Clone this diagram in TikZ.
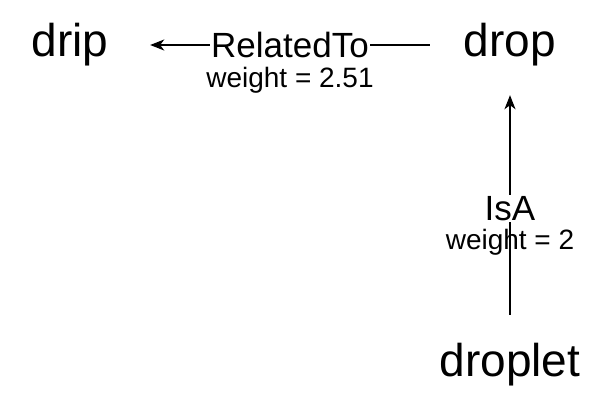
\documentclass[tikz,border=0pt]{standalone}
\usepackage{fontspec}
\setmainfont{Liberation Sans}
\usetikzlibrary{arrows.meta,positioning}

\begin{document}
\begin{tikzpicture}[x=1pt, y=-1pt, >={Stealth[length=14pt,width=11pt,inset=4pt]},
    concept/.style={font=\fontsize{46}{46}\selectfont, minimum width=160pt, minimum height=100pt, inner sep=0pt},
    relname/.style={font=\fontsize{35}{35}\selectfont, fill=white, inner sep=1pt, minimum height=1.2em},
    relweight/.style={font=\fontsize{28}{28}\selectfont, inner sep=1pt, minimum height=1.2em}]
    \useasboundingbox (0,0) rectangle (616,418);

    % Concepts
    \node[concept] (drip) at (70,45) {drip};
    \node[concept] (drop) at (510,45) {drop};
    \node[concept] (droplet) at (510,365) {droplet};

    % Relations
    \draw[->, line width=1.6pt] (drop) -- (drip) node[relname, midway] (rel) {RelatedTo};
    \node[relweight, below=6pt of rel] (relw) {weight = 2.51};

    \draw[->, line width=1.6pt] (droplet) -- (drop) node[relname, pos=0.485] (isa) {IsA};
    \node[relweight, below=6pt of isa] (isaw) {weight = 2};
\end{tikzpicture}
\end{document}
